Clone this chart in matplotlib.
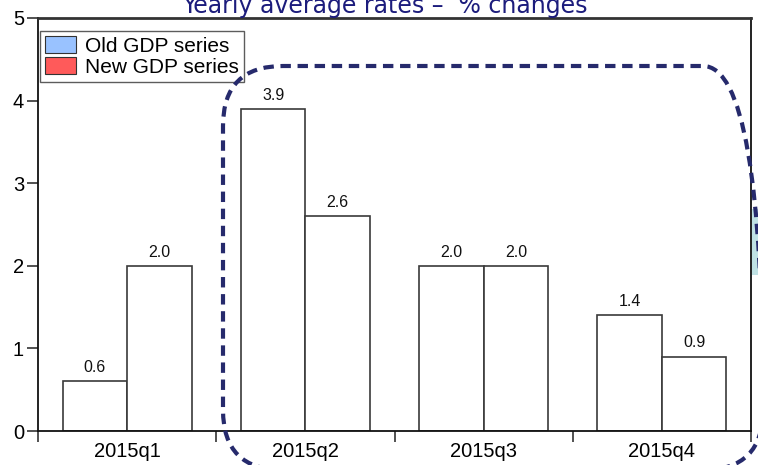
import matplotlib
matplotlib.use("Agg")
import matplotlib.pyplot as plt
from matplotlib.patches import Patch, FancyBboxPatch, Rectangle
from matplotlib.transforms import IdentityTransform
import numpy as np

quarters = ["2015q1", "2015q2", "2015q3", "2015q4"]
old_gdp = [0.6, 3.9, 2.0, 1.4]
new_gdp = [2.0, 2.6, 2.0, 0.9]
title_text = "Yearly average rates \u2013  % changes"
legend_labels = ["Old GDP series", "New GDP series"]

plt.rcParams["font.family"] = ["Liberation Sans", "DejaVu Sans"]

W, H, DPI = 758, 465, 100
fig = plt.figure(figsize=(W / DPI, H / DPI), dpi=DPI)
ax = fig.add_axes([38 / W, (H - 431) / H, (751 - 38) / W, (431 - 18) / H])

x = np.arange(len(quarters))
bw = 0.362
edge = "#3a3a3a"
b1 = ax.bar(x - bw / 2, old_gdp, bw, color="white", edgecolor=edge, linewidth=1.2)
b2 = ax.bar(x + bw / 2, new_gdp, bw, color="white", edgecolor=edge, linewidth=1.2)

for bars, vals in ((b1, old_gdp), (b2, new_gdp)):
    for rect, v in zip(bars, vals):
        ax.annotate(f"{v:.1f}", (rect.get_x() + rect.get_width() / 2, v),
                    xytext=(0, 4.5), textcoords="offset points",
                    ha="center", va="bottom", fontsize=11.5, color="#111111")

ax.set_xlim(-0.5, len(quarters) - 0.5)
ax.set_ylim(0, 5)
ax.set_yticks([0, 1, 2, 3, 4, 5])
ax.set_xticks(x)
ax.set_xticklabels(quarters)
ax.set_xticks(np.arange(-0.5, len(quarters), 1.0), minor=True)
ax.tick_params(axis="x", which="major", length=0, pad=8, labelsize=14.5)
ax.tick_params(axis="x", which="minor", length=8, width=1.2, direction="out", color="#333333")
ax.tick_params(axis="y", length=8, width=1.2, direction="out", pad=2, labelsize=14.5, color="#333333")
for side in ("left", "bottom", "right"):
    ax.spines[side].set_linewidth(1.3)
    ax.spines[side].set_color("#111111")
ax.spines["top"].set_linewidth(2.0)
ax.spines["top"].set_color("#333333")

handles = [Patch(facecolor="#99c2ff", edgecolor="#333333", linewidth=0.8),
           Patch(facecolor="#ff5a5a", edgecolor="#333333", linewidth=0.8)]
leg = ax.legend(handles, legend_labels, loc="upper left",
                bbox_to_anchor=(0.003, 0.969), borderaxespad=0, fontsize=15,
                frameon=True, fancybox=False, handlelength=1.45, handleheight=0.9,
                handletextpad=0.45, labelspacing=0.05, borderpad=0.25)
leg.get_frame().set_edgecolor("#333333")
leg.get_frame().set_linewidth(1.0)

fig.text(385 / W, (H - 12.5) / H, title_text, ha="center", va="baseline",
         fontsize=17, color="#1c1c7c", family=["DejaVu Sans"])

# dashed rounded frame highlighting the last three quarters
frame = FancyBboxPatch((223, H - 470), 540, 470 - 66,
                       boxstyle="round,pad=0,rounding_size=60",
                       transform=IdentityTransform(), fill=False,
                       edgecolor="#262a6c", linewidth=3.0,
                       linestyle=(0, (2.5, 1.6)), clip_on=False, zorder=10)
fig.add_artist(frame)

side_strip = Rectangle((752, H - 275), 8, 66, transform=IdentityTransform(),
                       facecolor="#bfe1e4", edgecolor="none", clip_on=False)
fig.add_artist(side_strip)

fig.savefig("out.png", dpi=DPI)
